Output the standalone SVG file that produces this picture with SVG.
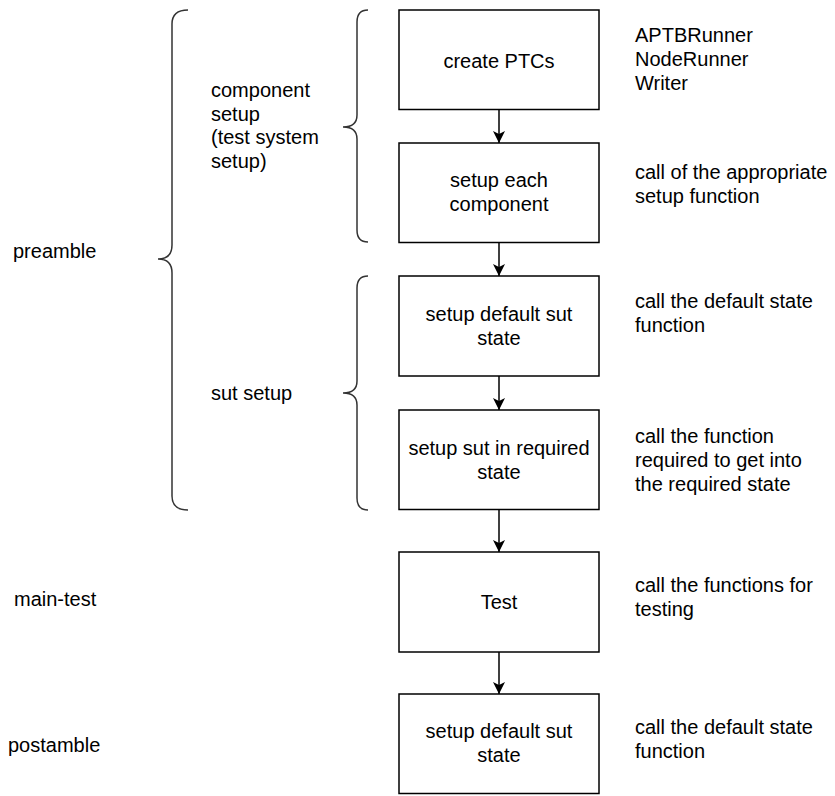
<svg xmlns="http://www.w3.org/2000/svg" width="835" height="796" viewBox="0 0 835 796">
<defs>
<style>
.box{fill:#fff;stroke:#000;stroke-width:1.5}
.t{font-family:"Liberation Sans",Arial,sans-serif;font-size:20px;fill:#000}
.c{text-anchor:middle}
.brace{fill:none;stroke:#333;stroke-width:1.5}
.edge{fill:none;stroke:#000;stroke-width:1.5}
</style>
<marker id="arr" viewBox="0 0 12 12" refX="12" refY="6" markerWidth="12" markerHeight="12" orient="auto" markerUnits="userSpaceOnUse">
<path d="M0,0 L12,6 L0,12 L3,6 Z" fill="#000"/>
</marker>
</defs>
<rect width="835" height="796" fill="#fff"/>

<g id="braces">
<path id="brace-preamble" class="brace" d="M188,10 Q172,10 172,24 L172,245 Q172,259 158,259 Q172,259 172,273 L172,496 Q172,510 188,510"/>
<path id="brace-component" class="brace" d="M368,10 Q357,10 357,22 L357,115 Q357,127 343,127 Q357,127 357,139 L357,230 Q357,242 368,242"/>
<path id="brace-sut" class="brace" d="M368,276 Q357,276 357,288 L357,381 Q357,393 343,393 Q357,393 357,405 L357,498 Q357,510 368,510"/>
</g>

<g id="connectors">
<line class="edge" x1="499" y1="110" x2="499" y2="143" marker-end="url(#arr)"/>
<line class="edge" x1="499" y1="243" x2="499" y2="276" marker-end="url(#arr)"/>
<line class="edge" x1="499" y1="376" x2="499" y2="410" marker-end="url(#arr)"/>
<line class="edge" x1="499" y1="509" x2="499" y2="552" marker-end="url(#arr)"/>
<line class="edge" x1="499" y1="652" x2="499" y2="694" marker-end="url(#arr)"/>
</g>

<g id="node-create-ptcs">
<rect class="box" x="399" y="10" width="200" height="99.5"/>
<text class="t c" x="499" y="68">create PTCs</text>
</g>
<g id="node-setup-each">
<rect class="box" x="399" y="143" width="200" height="99.5"/>
<text class="t c" x="499" y="187">setup each</text>
<text class="t c" x="499" y="211">component</text>
</g>
<g id="node-setup-default">
<rect class="box" x="399" y="276" width="200" height="100"/>
<text class="t c" x="499" y="321">setup default sut</text>
<text class="t c" x="499" y="345">state</text>
</g>
<g id="node-setup-required">
<rect class="box" x="399" y="410" width="200" height="99.5"/>
<text class="t c" x="499" y="455">setup sut in required</text>
<text class="t c" x="499" y="479">state</text>
</g>
<g id="node-test">
<rect class="box" x="399" y="552" width="200" height="100"/>
<text class="t c" x="499" y="609">Test</text>
</g>
<g id="node-postamble-default">
<rect class="box" x="399" y="694" width="200" height="99.5"/>
<text class="t c" x="499" y="738">setup default sut</text>
<text class="t c" x="499" y="762">state</text>
</g>

<g id="labels-left">
<text class="t" x="13" y="258">preamble</text>
<text class="t" x="14" y="606">main-test</text>
<text class="t" x="8" y="752">postamble</text>
<text class="t" x="211" y="97">component</text>
<text class="t" x="211" y="120.5">setup</text>
<text class="t" x="211" y="144">(test system</text>
<text class="t" x="211" y="167.5">setup)</text>
<text class="t" x="211" y="400">sut setup</text>
</g>

<g id="labels-right">
<text class="t" x="635" y="42">APTBRunner</text>
<text class="t" x="635" y="66">NodeRunner</text>
<text class="t" x="635" y="90">Writer</text>
<text class="t" x="635" y="179">call of the appropriate</text>
<text class="t" x="635" y="203">setup function</text>
<text class="t" x="635" y="308">call the default state</text>
<text class="t" x="635" y="332">function</text>
<text class="t" x="635" y="443">call the function</text>
<text class="t" x="635" y="467">required to get into</text>
<text class="t" x="635" y="491">the required state</text>
<text class="t" x="635" y="592">call the functions for</text>
<text class="t" x="635" y="616">testing</text>
<text class="t" x="635" y="734">call the default state</text>
<text class="t" x="635" y="758">function</text>
</g>
</svg>
